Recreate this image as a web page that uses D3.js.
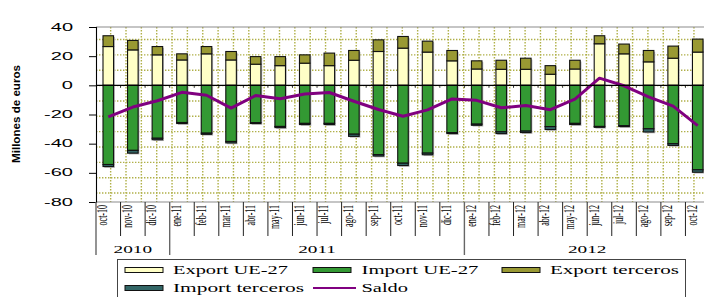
<!DOCTYPE html>
<html><head><meta charset="utf-8">
<script src="https://cdn.jsdelivr.net/npm/d3@7"></script>
<style>html,body{margin:0;padding:0;background:#fff;overflow:hidden}</style>
</head><body>
<svg id="c" width="704" height="297"></svg>
<script>
const months = ["oct-10","nov-10","dic-10","ene-11","feb-11","mar-11","abr-11","may-11","jun-11","jul-11","ago-11","sep-11","oct-11","nov-11","dic-11","ene-12","feb-12","mar-12","abr-12","may-12","jun-12","jul-12","ago-12","sep-12","oct-12"];
const years = ["2010","2011","2012"];
const yearSpans = [3,12,10];
const yTicks = [40,20,0,-20,-40,-60,-80];
const exportUE = [26.6,24.3,20.9,17.4,21.6,17.4,14.5,13.5,15.2,13.5,17.2,23.2,25.5,22.8,16.8,11.2,11.0,11.0,7.6,11.2,28.5,21.6,16.1,18.6,22.8];
const exportTer = [7.4,6.5,5.7,4.2,5.0,5.8,5.2,6.2,5.7,8.6,6.7,8.0,8.0,7.5,7.1,5.6,6.2,7.6,5.9,6.0,5.5,6.7,7.8,8.3,8.9];
const importUE = [-54.3,-44.6,-36.3,-25.5,-32.8,-38.5,-25.6,-28.2,-26.1,-26.1,-33.5,-47.5,-53.4,-46.5,-32.4,-26.6,-31.9,-31.4,-28.3,-26.1,-28.2,-27.7,-29.8,-40.0,-57.9];
const importTer = [-1.4,-1.9,-1.0,-0.7,-0.8,-1.0,-0.6,-0.8,-0.8,-0.8,-1.5,-1.0,-1.6,-1.1,-0.7,-0.8,-1.2,-1.0,-2.0,-0.8,-0.6,-0.6,-2.2,-1.2,-1.7];
const saldo = [-21.6,-14.9,-10.6,-4.8,-6.8,-15.6,-7.0,-9.2,-6.0,-4.9,-10.9,-16.6,-21.2,-16.8,-9.3,-10.3,-15.4,-13.8,-16.7,-9.5,4.9,-0.3,-7.9,-14.3,-27.6];
const seriesNames = ["Export UE-27","Import UE-27","Export terceros","Import terceros","Saldo"];
const colors = ["#ffffc6","#339933","#999933","#336666","#800080"];

const svg = d3.select("#c");
const L = 96, R = 710, T = 27, B = 202;
const x = d3.scaleBand().domain(months).range([L, R]).padding(0);
const y = d3.scaleLinear().domain([-80, 40]).range([B, T]);
const bw = x.bandwidth() * 0.43;

// clip
svg.append("defs").append("clipPath").attr("id","clip")
  .append("rect").attr("x",L).attr("y",T-2).attr("width",704-L).attr("height",B-T+4);

// plot background grid (dotted pattern)
const grid = svg.append("g").attr("stroke","#b0b048").attr("stroke-width",1.4)
  .attr("stroke-dasharray","1.4,1.6");
const stepG = (R - L) / 40;
for (let k = 0; L - 0.7 + k*stepG <= 704; k++) {
  const gx = L - 0.7 + k*stepG;
  if (gx < L + 1) continue;
  grid.append("line").attr("x1",gx).attr("x2",gx).attr("y1",T).attr("y2",B);
}
for (let k = -8; k <= 8; k++) {
  const gy = 85.6 + k*stepG;
  if (gy <= T + 1 || gy >= B - 1) continue;
  grid.append("line").attr("x1",L).attr("x2",704).attr("y1",gy).attr("y2",gy);
}

// top border and bottom line
svg.append("line").attr("x1",L).attr("x2",704).attr("y1",T).attr("y2",T).attr("stroke","#8c8c8c").attr("stroke-width",1.2);
svg.append("line").attr("x1",L).attr("x2",704).attr("y1",B).attr("y2",B).attr("stroke","#8c8c8c").attr("stroke-width",1.2);

// stacked bars
const table = months.map((m,i)=>({m, eUE:exportUE[i], iUE:importUE[i], eT:exportTer[i], iT:importTer[i]}));
const keys = ["eUE","iUE","eT","iT"];
const keyColor = {eUE:colors[0], iUE:colors[1], eT:colors[2], iT:colors[3]};
const stack = d3.stack().keys(keys).offset(d3.stackOffsetDiverging)(table);
const plot = svg.append("g").attr("clip-path","url(#clip)");
// shadows
stack.forEach(s=>{
  plot.append("g").attr("fill","#b8b8b8").selectAll("rect").data(s).join("rect")
    .attr("x", d=>x(d.data.m) + x.bandwidth()/2 - bw/2 + 1.3)
    .attr("y", d=>y(Math.max(d[0],d[1])) + 1.3)
    .attr("width", bw)
    .attr("height", d=>Math.abs(y(d[0]) - y(d[1])));
});
stack.forEach(s=>{
  plot.append("g").attr("fill",keyColor[s.key]).attr("stroke","#111").attr("stroke-width",1.1)
    .selectAll("rect").data(s).join("rect")
    .attr("x", d=>x(d.data.m) + x.bandwidth()/2 - bw/2)
    .attr("y", d=>y(Math.max(d[0],d[1])))
    .attr("width", bw)
    .attr("height", d=>Math.abs(y(d[0]) - y(d[1])));
});

// zero line with small ticks
svg.append("line").attr("x1",L).attr("x2",704).attr("y1",y(0)).attr("y2",y(0)).attr("stroke","#000").attr("stroke-width",1.1);
months.forEach((m,i)=>{ if(i>0){ svg.append("line").attr("x1",x(m)).attr("x2",x(m)).attr("y1",y(0)).attr("y2",y(0)+2.5).attr("stroke","#000").attr("stroke-width",0.8);} });

// saldo line
const line = d3.line().x((d,i)=>x(months[i]) + x.bandwidth()/2).y(d=>y(d));
plot.append("path").datum(saldo).attr("d",line).attr("fill","none").attr("stroke",colors[4]).attr("stroke-width",3).attr("stroke-linejoin","round");

// y axis
const yAxis = svg.append("g").attr("transform",`translate(${L},0)`)
  .call(d3.axisLeft(y).tickValues(yTicks).tickSize(7).tickFormat(d=>d));
yAxis.select(".domain").attr("stroke","#000").attr("stroke-width",1.1);
yAxis.selectAll(".tick line").attr("stroke","#000");
yAxis.selectAll(".tick text").remove();
yTicks.forEach(t=>{
  svg.append("text").attr("transform",`translate(73,${y(t)}) scale(2,1)`)
    .attr("text-anchor","end").attr("dy","0.36em")
    .attr("font-family","Liberation Sans, Arial, sans-serif").attr("font-size",10).attr("fill","#000")
    .text(String(t).replace("-","-"));
});

// y title
svg.append("text").attr("transform","translate(16.5,114) rotate(-90)")
  .attr("text-anchor","middle").attr("dy","0.35em")
  .attr("font-family","Liberation Sans, Arial, sans-serif").attr("font-weight","bold").attr("font-size",10.5)
  .attr("textLength",98).attr("lengthAdjust","spacingAndGlyphs")
  .text("Millones de euros");

// category labels
months.forEach((m,i)=>{
  const bx = x(m);
  svg.append("text").attr("transform",`translate(${bx+6.5},205) scale(1.7,1) rotate(-90)`)
    .attr("text-anchor","end").attr("dominant-baseline","central")
    .attr("font-family","Liberation Serif, Times New Roman, serif").attr("font-size",8).attr("fill","#000")
    .text(m);
});
// month separators
let yearStarts = [0]; yearSpans.reduce((a,b)=>{yearStarts.push(a+b); return a+b;},0);
months.forEach((m,i)=>{
  const isYear = yearStarts.includes(i);
  svg.append("line").attr("x1",x(m)).attr("x2",x(m)).attr("y1",B).attr("y2",isYear?255:236)
    .attr("stroke",isYear?"#666":"#222").attr("stroke-width",isYear?1.4:1);
});
// year labels
years.forEach((yr,j)=>{
  const s = yearStarts[j], e = s + yearSpans[j];
  const x0 = x(months[s]);
  const x1 = e < months.length ? x(months[e]) : R;
  svg.append("text").attr("transform",`translate(${(x0+x1)/2},252.5) scale(1.75,1)`)
    .attr("text-anchor","middle")
    .attr("font-family","Liberation Serif, Times New Roman, serif").attr("font-size",11).attr("fill","#000")
    .text(yr);
});

// legend
const lg = svg.append("g");
lg.append("rect").attr("x",117.5).attr("y",259.5).attr("width",568).attr("height",45)
  .attr("fill","#fff").attr("stroke","#444").attr("stroke-width",1);
const items = [
  {name:seriesNames[0], c:colors[0], sx:125, tx:173, tw:115, row:0, type:"rect"},
  {name:seriesNames[1], c:colors[1], sx:313, tx:361.5, tw:117, row:0, type:"rect"},
  {name:seriesNames[2], c:colors[2], sx:502, tx:550, tw:129, row:0, type:"rect"},
  {name:seriesNames[3], c:colors[3], sx:125, tx:173, tw:131, row:1, type:"rect"},
  {name:seriesNames[4], c:colors[4], sx:313, tx:361.5, tw:46.5, row:1, type:"line"}
];
items.forEach(it=>{
  const cy = it.row === 0 ? 270 : 288;
  if (it.type === "rect") {
    lg.append("rect").attr("x",it.sx).attr("y",cy-2.5).attr("width",38).attr("height",5)
      .attr("fill",it.c).attr("stroke","#111").attr("stroke-width",1);
  } else {
    lg.append("line").attr("x1",it.sx).attr("x2",it.sx+43).attr("y1",cy).attr("y2",cy)
      .attr("stroke",it.c).attr("stroke-width",2.2);
  }
  lg.append("text").attr("x",it.tx).attr("y",cy+4)
    .attr("font-family","Liberation Serif, Times New Roman, serif").attr("font-size",11.5).attr("fill","#000")
    .attr("textLength",it.tw).attr("lengthAdjust","spacingAndGlyphs")
    .text(it.name);
});
</script>
</body></html>
